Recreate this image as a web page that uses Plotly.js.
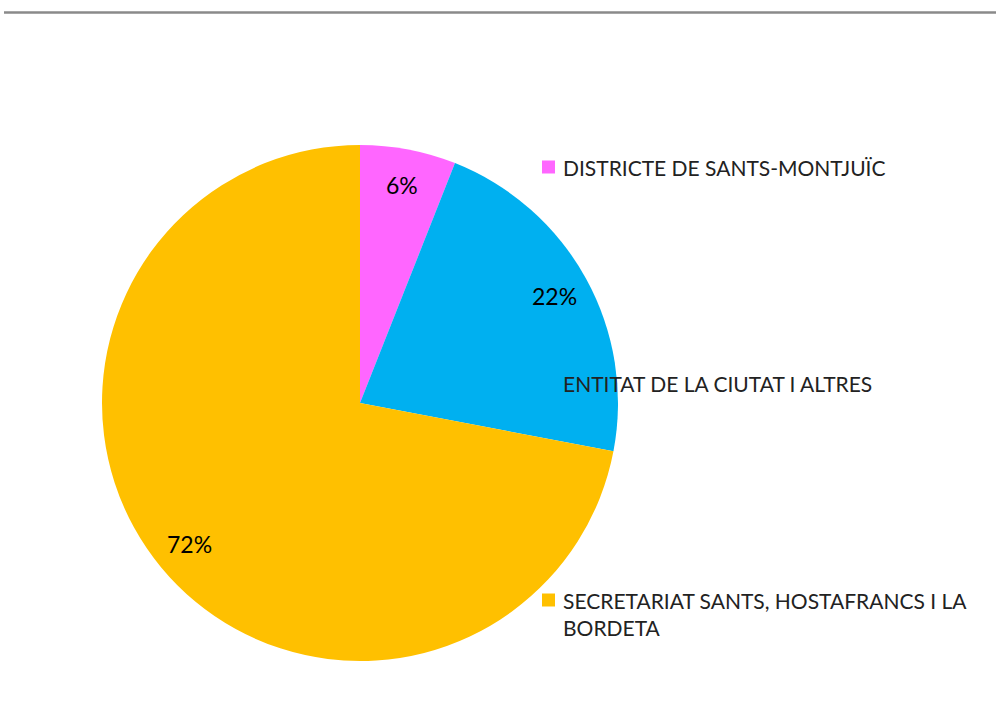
<!DOCTYPE html>
<html><head><meta charset="utf-8">
<script src="https://cdn.plot.ly/plotly-3.0.1.min.js"></script>
<style>html,body{margin:0;padding:0;background:#fff}#chart{width:996px;height:726px}</style>
</head><body><div id="chart"></div>
<script>
const categories = ["DISTRICTE DE SANTS-MONTJUÏC", "ENTITAT DE LA CIUTAT I ALTRES", "SECRETARIAT SANTS, HOSTAFRANCS I LA BORDETA"];
const legendLabels = ["DISTRICTE DE SANTS-MONTJUÏC", "ENTITAT DE LA CIUTAT I ALTRES", "SECRETARIAT SANTS, HOSTAFRANCS I LA<br>BORDETA"];
const values = [6, 22, 72];
const colors = ["#FF66FF", "#00B0F0", "#FFC000"];

const W = 996, H = 726;
const cx = 360, cy = 403, R = 258;
const dom = {x: [(cx - R) / W, (cx + R) / W], y: [(H - cy - R) / H, (H - cy + R) / H]};
const FONT = "Lato, 'Open Sans', sans-serif";

const total = values.reduce((a, b) => a + b, 0);
const annotations = [];
let cum = 0;
values.forEach((v, i) => {
  const mid = (cum + v / 2) / total * 2 * Math.PI;
  cum += v;
  const r = 0.86 * R;
  const px = cx + r * Math.sin(mid), py = cy - r * Math.cos(mid);
  annotations.push({x: px / W, y: 1 - py / H, xref: 'paper', yref: 'paper', showarrow: false,
    text: Math.round(v / total * 100) + '%', font: {family: FONT, size: 23, color: '#000'}, xanchor: 'center', yanchor: 'middle'});
});
const legY = [167, 383, 600];
const shapes = [{type: 'line', xref: 'paper', yref: 'paper', x0: 4 / W, x1: 1, y0: 1 - 12.5 / H, y1: 1 - 12.5 / H, line: {color: '#8a8a8a', width: 2.5}}];
legendLabels.forEach((t, i) => {
  annotations.push({x: 561 / W, y: 1 - legY[i] / H, xref: 'paper', yref: 'paper', showarrow: false, align: 'left',
    text: t, font: {family: FONT, size: 21, color: '#222'}, xanchor: 'left', yanchor: 'top', yshift: 14});
  shapes.push({type: 'rect', xref: 'paper', yref: 'paper', x0: 542 / W, x1: 555 / W, y0: 1 - (legY[i] + 6.5) / H, y1: 1 - (legY[i] - 6.5) / H,
    fillcolor: colors[i], line: {width: 0}});
});

Plotly.newPlot('chart', [{
  type: 'pie', values: values, labels: categories, sort: false, direction: 'clockwise', rotation: 0,
  marker: {colors: colors, line: {width: 0}}, textinfo: 'none', hoverinfo: 'label+percent', domain: dom, showlegend: false
}], {
  width: W, height: H, margin: {l: 0, r: 0, t: 0, b: 0}, paper_bgcolor: '#fff', showlegend: false,
  annotations: annotations, shapes: shapes
}, {displayModeBar: false, staticPlot: true});
</script></body></html>
